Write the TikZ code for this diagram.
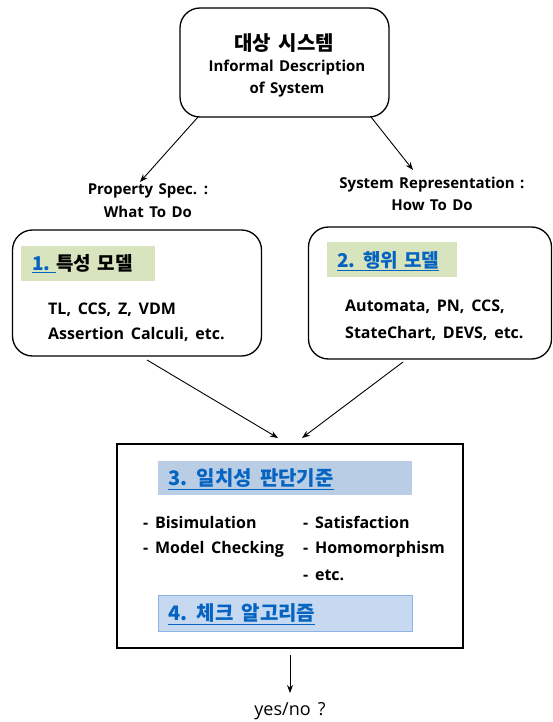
\documentclass[tikz,border=0pt]{standalone}
\usepackage{fontspec}
\setmainfont{Open Sans}
\newfontfamily\kr{Noto Sans CJK KR}
\usetikzlibrary{arrows.meta}
\definecolor{hdgreen}{HTML}{D7E4BD}
\definecolor{hdblue}{HTML}{B9CDE5}
\definecolor{hdbluetwo}{HTML}{C6D9F1}
\definecolor{hdborder}{HTML}{8EB4E3}
\definecolor{linkblue}{HTML}{0563C1}
\newcommand{\wsp}[1]{\spaceskip=#1em\relax}
\begin{document}
\begin{tikzpicture}[x=1pt,y=-1pt,
  rbox/.style={draw, line width=1.3pt, rounded corners=20pt, inner sep=0},
  txt/.style={font=\bfseries\fontsize{16}{19}\selectfont\wsp{0.42}, inner sep=0, anchor=west},
  ctxt/.style={font=\bfseries\fontsize{15}{18}\selectfont\wsp{0.36}, inner sep=0},
  hdr/.style={font=\kr\bfseries\fontsize{20}{24}\selectfont\wsp{0.4}, text=linkblue, inner sep=0, anchor=west},
  hdrs/.style={hdr, font=\kr\bfseries\fontsize{19}{23}\selectfont\wsp{0.33}},
  hbox/.style={inner sep=0},
  arr/.style={-{Stealth[length=8pt,width=6pt]}, line width=0.9pt}]
\useasboundingbox (0,0) rectangle (553,722);

% top box
\node[rbox, minimum width=209pt, minimum height=109pt] (top) at (284.5,62.5) {};
\node[font=\kr\bfseries\fontsize{20}{24}\selectfont\wsp{0.4}, inner sep=0] (t1) at (284,43) {대상 시스템};
\node[ctxt] (t2) at (287,68) {Informal Description};
\node[ctxt] (t3) at (287,90) {of System};

% labels
\node[ctxt] (p1) at (148,191) {Property Spec. :};
\node[ctxt] (p2) at (148,212) {What To Do};
\node[ctxt] (s1) at (432,185) {System Representation :};
\node[ctxt] (s2) at (432,205) {How To Do};

\coordinate (a1s) at (198,117);
\coordinate (a1e) at (140,182);
\coordinate (a2s) at (371,117);
\coordinate (a2e) at (413,170);
\draw[arr] (a1s) -- (a1e);
\draw[arr] (a2s) -- (a2e);

% left box
\node[rbox, minimum width=249pt, minimum height=126pt] (lb) at (137,293) {};
\node[hbox, fill=hdgreen, minimum width=134pt, minimum height=35pt] (lh) at (88,263.5) {};
\node[hdrs] (lht) at (32,264) {\underline{1.\hspace{6pt}}\textcolor{black}{특성 모델}};
\node[txt] (l1) at (48,310) {TL, CCS, Z, VDM};
\node[txt] (l2) at (48,334) {Assertion Calculi, etc.};

% right box
\node[rbox, minimum width=243pt, minimum height=132pt] (rb) at (430,293) {};
\node[hbox, fill=hdgreen, minimum width=130pt, minimum height=35pt] (rh) at (392,259.5) {};
\node[hdrs] (rht) at (337,261) {\underline{2. 행위 모델}};
\node[txt] (r1) at (345,307) {Automata, PN, CCS,};
\node[txt] (r2) at (345,333) {StateChart, DEVS, etc.};

\coordinate (b1s) at (147,360);
\coordinate (b1e) at (278,438);
\coordinate (b2s) at (403,362);
\coordinate (b2e) at (302,438);
\draw[arr] (b1s) -- (b1e);
\draw[arr] (b2s) -- (b2e);

% bottom box
\node[draw, line width=1.4pt, minimum width=346pt, minimum height=204pt, inner sep=0] (bb) at (290,546) {};
\node[hbox, fill=hdblue, minimum width=254pt, minimum height=34pt] (bh) at (285,478) {};
\node[hdr] (bht) at (168,479) {\underline{3. 일치성 판단기준}};
\node[txt] (m1) at (143,522) {- Bisimulation};
\node[txt] (m2) at (143,549) {- Model Checking};
\node[txt] (m3) at (303,522) {- Satisfaction};
\node[txt] (m4) at (303,549) {- Homomorphism};
\node[txt] (m5) at (303,575) {- etc.};
\node[hbox, draw=hdborder, line width=1.2pt, fill=hdbluetwo, minimum width=254pt, minimum height=36pt] (ch) at (285.5,613.5) {};
\node[hdr] (cht) at (168,614) {\underline{4. 체크 알고리즘}};

\coordinate (ys) at (290,655);
\node[font=\fontsize{18}{21}\selectfont\wsp{0.4}, inner sep=0] (yn) at (290,711) {yes/no ?};
\coordinate (ye) at (290,693);
\draw[arr] (ys) -- (ye);
\end{tikzpicture}
\end{document}
